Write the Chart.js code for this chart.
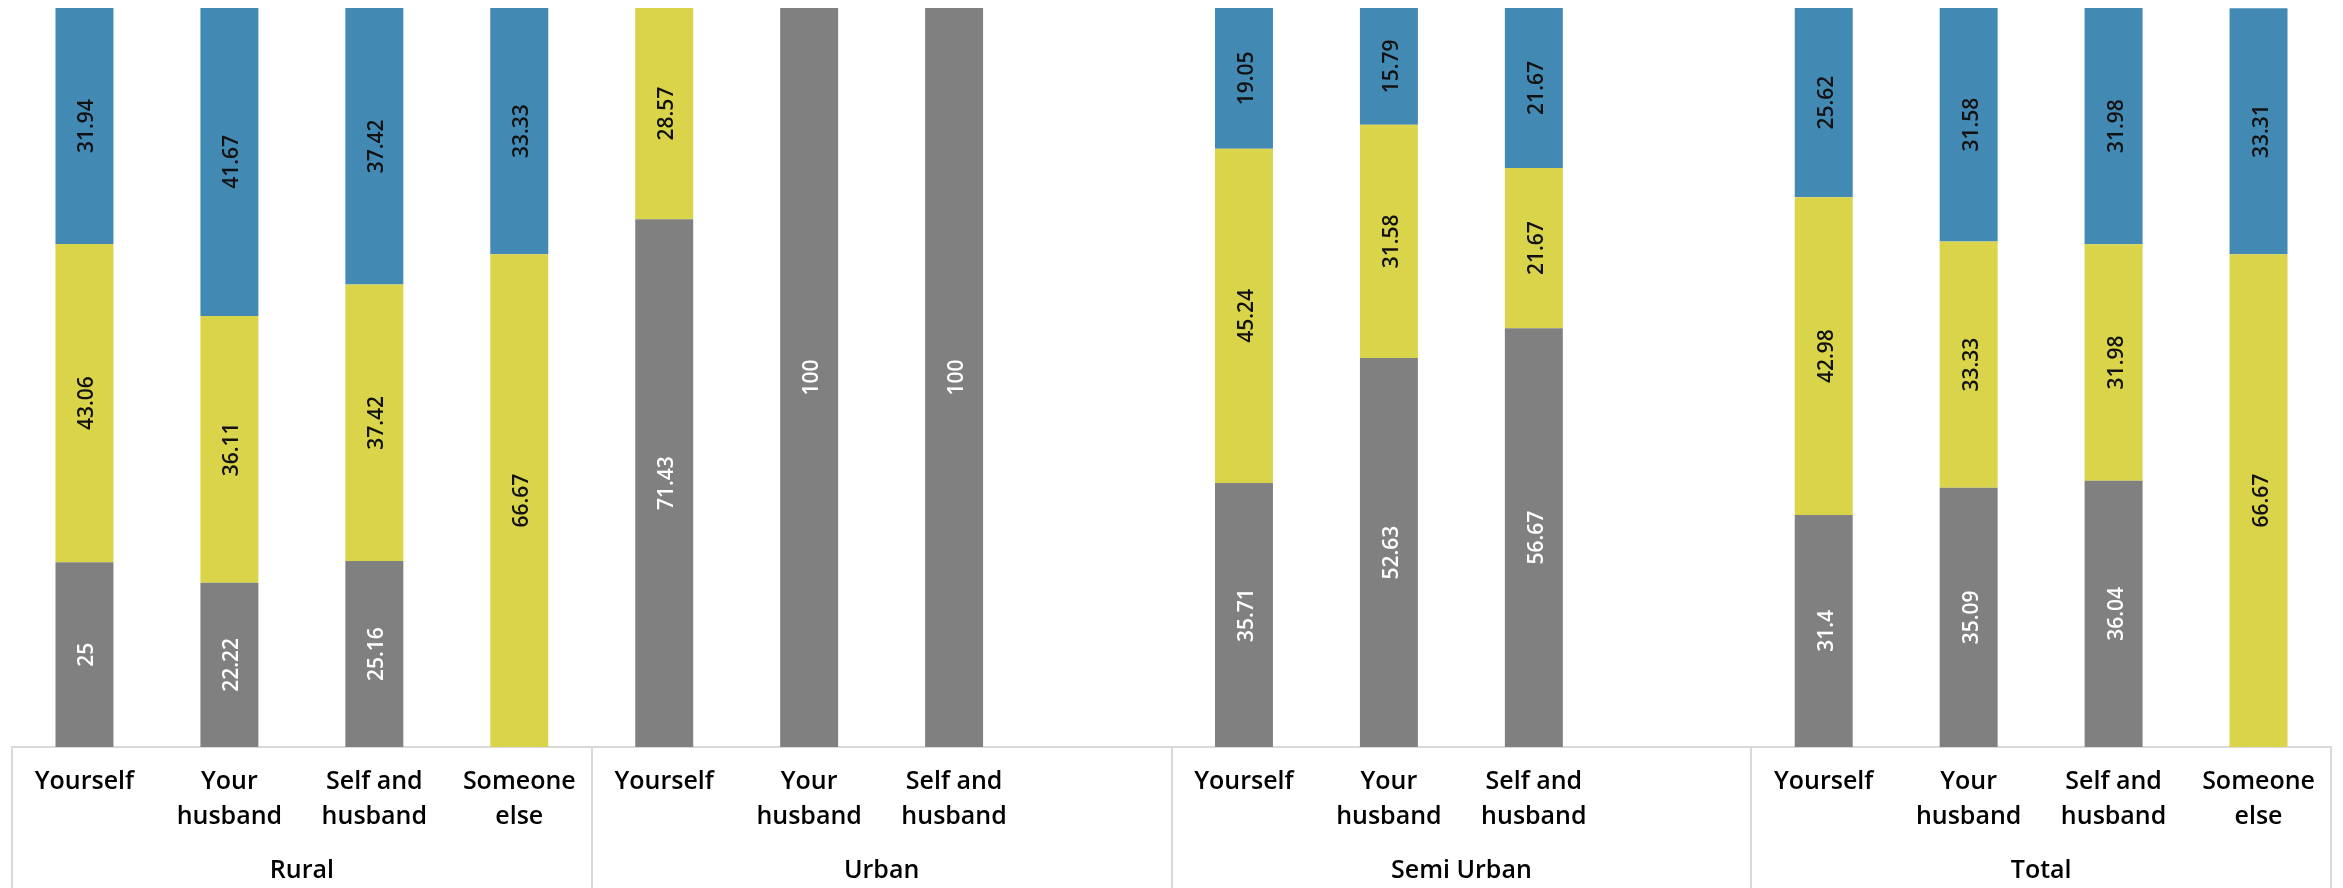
<!DOCTYPE html>
<html>
<head>
<meta charset="utf-8">
<title>Decision maker by area</title>
<script src="https://cdn.jsdelivr.net/npm/chart.js@4.4.0/dist/chart.umd.min.js"></script>
<style>
    html, body { margin: 0; padding: 0; background: #fff; }
    #wrap { width: 2343px; height: 888px; }
</style>
</head>
<body>
<div id="wrap"><canvas id="myChart"></canvas></div>
<script>
// area groups, 4 slots each (Urban / Semi Urban leave the last slot empty)
const groups = ['Rural', 'Urban', 'Semi Urban', 'Total'];
const slotLabels = [
    'Yourself', ['Your', 'husband'], ['Self and', 'husband'], ['Someone', 'else'],
    'Yourself', ['Your', 'husband'], ['Self and', 'husband'], '',
    'Yourself', ['Your', 'husband'], ['Self and', 'husband'], '',
    'Yourself', ['Your', 'husband'], ['Self and', 'husband'], ['Someone', 'else']
];

const grayValues   = [25, 22.22, 25.16, null,  71.43, 100, 100, null,  35.71, 52.63, 56.67, null,  31.4, 35.09, 36.04, null];
const yellowValues = [43.06, 36.11, 37.42, 66.67,  28.57, null, null, null,  45.24, 31.58, 21.67, null,  42.98, 33.33, 31.98, 66.67];
const blueValues   = [31.94, 41.67, 37.42, 33.33,  null, null, null, null,  19.05, 15.79, 21.67, null,  25.62, 31.58, 31.98, 33.31];

const LABEL_FONT = 'Open Sans';

// rotated value text in the middle of each segment
const valueLabels = {
    id: 'valueLabels',
    afterDatasetsDraw(chart) {
        const ctx = chart.ctx;
        chart.data.datasets.forEach((ds, di) => {
            const meta = chart.getDatasetMeta(di);
            meta.data.forEach((bar, i) => {
                const v = ds.data[i];
                if (v == null) return;
                const cy = (bar.y + bar.base) / 2;
                ctx.save();
                ctx.translate(bar.x + 3, cy);
                ctx.rotate(-Math.PI / 2);
                ctx.font = '600 21px "Open Sans"';
                ctx.fillStyle = ds.labelColor;
                ctx.textAlign = 'center';
                ctx.textBaseline = 'middle';
                ctx.fillText(String(v), 0, 0);
                ctx.restore();
            });
        });
    }
};

// group separators and the second row of labels under the axis
const groupAxis = {
    id: 'groupAxis',
    afterDraw(chart) {
        const x = chart.scales.x;
        const ctx = chart.ctx;
        const top = chart.chartArea.bottom;
        const bottom = chart.height;
        ctx.save();
        ctx.strokeStyle = '#d9d9d9';
        ctx.lineWidth = 2;
        for (let g = 0; g <= groups.length; g++) {
            const px = Math.round(x.getPixelForValue(g * 4 - 0.5));
            ctx.beginPath();
            ctx.moveTo(px, top);
            ctx.lineTo(px, bottom);
            ctx.stroke();
        }
        ctx.fillStyle = '#000';
        ctx.font = '600 25px "' + LABEL_FONT + '"';
        ctx.textAlign = 'center';
        ctx.textBaseline = 'middle';
        groups.forEach((name, g) => {
            const cx = x.getPixelForValue(g * 4 + 1.5);
            ctx.fillText(name, cx, 871);
        });
        ctx.restore();
    }
};

const ctx = document.getElementById('myChart').getContext('2d');
const myChart = new Chart(ctx, {
    type: 'bar',
    data: {
        labels: slotLabels,
        datasets: [
            {
                label: 'Series1',
                data: grayValues,
                backgroundColor: '#808080',
                labelColor: '#ffffff'
            },
            {
                label: 'Series2',
                data: yellowValues,
                backgroundColor: '#d9d449',
                labelColor: '#111111'
            },
            {
                label: 'Series3',
                data: blueValues,
                backgroundColor: '#4289b4',
                labelColor: '#111111'
            }
        ]
    },
    options: {
        responsive: true,
        maintainAspectRatio: false,
        animation: false,
        barPercentage: 0.4,
        categoryPercentage: 1.0,
        layout: { padding: { left: 12, right: 12, top: 8, bottom: 0 } },
        plugins: {
            legend: { display: false },
            tooltip: { enabled: false }
        },
        scales: {
            x: {
                stacked: true,
                grid: { display: false, drawTicks: false },
                border: { display: true, color: '#d9d9d9', width: 2 },
                ticks: {
                    color: '#000',
                    font: { family: LABEL_FONT, size: 25, weight: '600', lineHeight: 1.38 },
                    padding: 18,
                    maxRotation: 0,
                    autoSkip: false
                },
                afterFit(scale) { scale.height = 141; }
            },
            y: {
                display: false,
                stacked: true,
                min: 0,
                max: 100
            }
        }
    },
    plugins: [valueLabels, groupAxis]
});
</script>
</body>
</html>
